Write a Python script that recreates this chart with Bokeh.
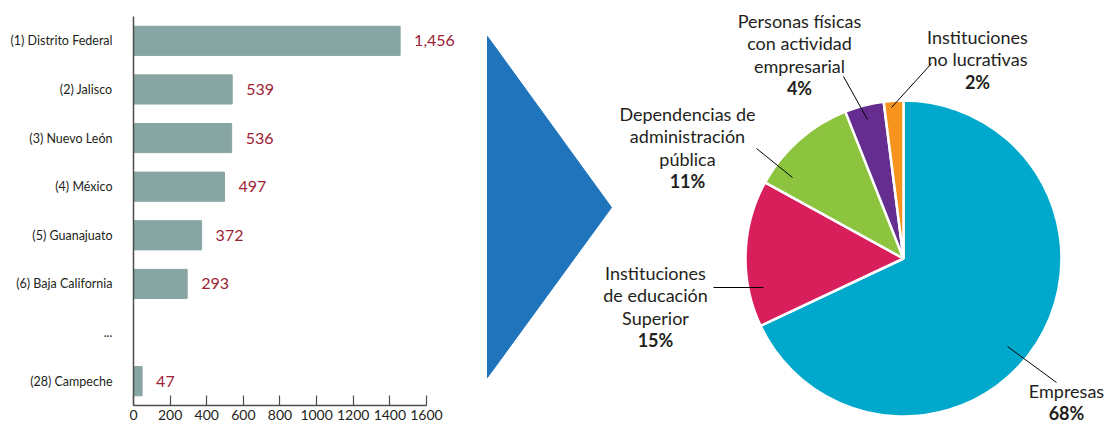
from bokeh.plotting import figure
from bokeh.layouts import row, column
from bokeh.models import FactorRange, Range1d, FixedTicker
from bokeh.core.properties import value
from bokeh.embed import file_html
from bokeh.resources import INLINE
import math

# ---- bar chart data ----
categories = ["(1) Distrito Federal", "(2) Jalisco", "(3) Nuevo León", "(4) México",
              "(5) Guanajuato", "(6) Baja California", "...", "(28) Campeche"]
states = ["(1) Distrito Federal", "(2) Jalisco", "(3) Nuevo León", "(4) México",
          "(5) Guanajuato", "(6) Baja California", "(28) Campeche"]
counts = [1456, 539, 536, 497, 372, 293, 47]
x_ticks = [0, 200, 400, 600, 800, 1000, 1200, 1400, 1600]

# ---- pie data ----
sectors = ["Empresas", "Instituciones\nde educación\nSuperior",
           "Dependencias de\nadministración\npública",
           "Personas físicas\ncon actividad\nempresarial",
           "Instituciones\nno lucrativas"]
shares = [68, 15, 11, 4, 2]
sector_colors = ["#00a9cc", "#d91e5c", "#8cc43f", "#652d90", "#f7941d"]

# label anchors (pie panel pixel coords) and leader lines
label_x = [588, 177, 209, 321, 499]
label_top = [35, 153, 312, 405, 389]
lead_x0 = [529, 235, 278, 365, 453]
lead_y0 = [79, 138, 277, 349, 362]
lead_x1 = [578, 285, 314, 389, 413]
lead_y1 = [43, 138, 248, 306, 318]

FONT = "Lato"
INK = "#231f20"

# ================= bar chart =================
p1 = figure(width=478, height=425, y_range=FactorRange(*reversed(categories)),
            x_range=Range1d(0, 1884), output_backend="svg", toolbar_location=None,
            min_border_left=133, min_border_right=0, min_border_top=16, min_border_bottom=20)
p1.outline_line_color = None
p1.grid.visible = False
p1.background_fill_color = None
p1.border_fill_color = None

p1.hbar(y=states, right=counts, left=0, height=0.6, color="#87a6a3")
p1.text(x=counts, y=states, text=[f"{c:,}" for c in counts], x_offset=14,
        text_baseline="middle", text_align="left", text_font=value(FONT),
        text_font_size="16px", text_color="#9c2235")

ya = p1.yaxis[0]
ya.major_tick_line_color = None
ya.minor_tick_line_color = None
ya.axis_line_color = "#4d4d4d"
ya.axis_line_width = 1.5
ya.major_label_standoff = 15
ya.major_label_text_font = FONT
ya.major_label_text_font_size = "12.5px"
ya.major_label_text_color = INK

xa = p1.xaxis[0]
xa.ticker = FixedTicker(ticks=x_ticks)
xa.bounds = (0, 1600)
xa.major_tick_in = 10
xa.major_tick_out = 0
xa.minor_tick_line_color = None
xa.axis_line_color = "#4d4d4d"
xa.axis_line_width = 1.5
xa.major_tick_line_color = "#4d4d4d"
xa.major_tick_line_width = 1.2
xa.major_label_standoff = 4
xa.major_label_text_font = FONT
xa.major_label_text_font_size = "14px"
xa.major_label_text_color = INK

# ================= pie chart =================
W2, H2 = 635, 425
p2 = figure(width=W2, height=H2, x_range=Range1d(0, W2), y_range=Range1d(0, H2),
            output_backend="svg", toolbar_location=None, min_border=0,
            x_axis_location=None, y_axis_location=None, title=None)
p2.grid.visible = False
p2.outline_line_color = None
p2.background_fill_color = None
p2.border_fill_color = None

# arrow triangle
p2.patch(x=[9, 133, 9], y=[389, 218, 48], color="#1f74bc")

cx, cy, R = 425, 167, 158
starts, ends = [], []
cum = 0
for s in shares:
    ends.append(math.radians(90 - cum * 3.6))
    cum += s
    starts.append(math.radians(90 - cum * 3.6))
p2.wedge(x=cx, y=cy, radius=R, start_angle=starts, end_angle=ends,
         fill_color=sector_colors, line_color="white", line_width=2.5)

p2.segment(x0=lead_x0, y0=lead_y0, x1=lead_x1, y1=lead_y1, line_color="black", line_width=1)

LH = 22.5
tx, ty, tt, px, py, pt = [], [], [], [], [], []
for name, s, x, y in zip(sectors, shares, label_x, label_top):
    lines = name.split("\n")
    for i, ln in enumerate(lines):
        tx.append(x); ty.append(y - i * LH); tt.append(ln)
    px.append(x); py.append(y - len(lines) * LH); pt.append(f"{s}%")
p2.text(x=tx, y=ty, text=tt, text_align="center", text_baseline="middle",
        text_font=value(FONT), text_font_size="18px", text_color=INK)
p2.text(x=px, y=py, text=pt, text_align="center", text_baseline="middle",
        text_font=value(FONT), text_font_size="18px", text_font_style="bold", text_color=INK)

layout = row(p1, column(p2))
open("out.html", "w").write(file_html(layout, INLINE))
